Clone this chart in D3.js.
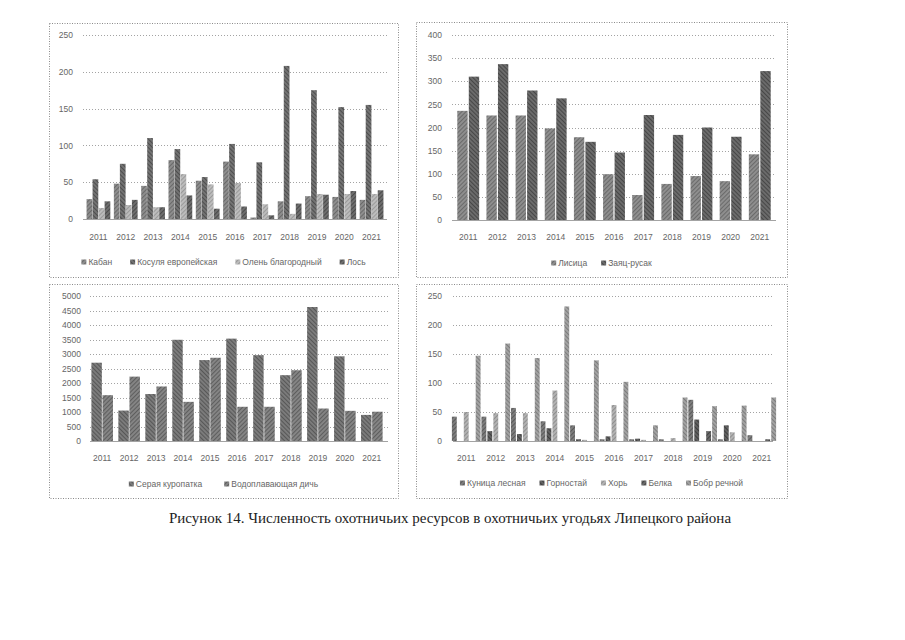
<!DOCTYPE html>
<html><head><meta charset="utf-8">
<script src="https://cdn.jsdelivr.net/npm/d3@7"></script>
<style>body{margin:0;background:#fff}</style></head>
<body><svg id="c" width="905" height="640"></svg>
<script>
// ---------- DATA ----------
const years = ["2011","2012","2013","2014","2015","2016","2017","2018","2019","2020","2021"];

const ungulateSeries = ["Кабан","Косуля европейская","Олень благородный","Лось"];
const boar     = [27, 48, 45, 80, 52, 78, 2, 24, 31, 30, 26];
const roeDeer  = [54, 75, 110, 95, 57, 102, 77, 208, 175, 152, 155];
const redDeer  = [15, 19, 16, 61, 47, 49, 20, 7, 34, 34, 34];
const elk      = [24, 26, 16, 32, 14, 17, 5, 21, 33, 38, 39];
const ungulateTicks = [0, 50, 100, 150, 200, 250];

const smallGameSeries = ["Лисица","Заяц-русак"];
const fox  = [236, 226, 226, 198, 179, 99, 54, 78, 95, 84, 142];
const hare = [310, 337, 280, 263, 169, 146, 227, 184, 200, 180, 322];
const smallGameTicks = [0, 50, 100, 150, 200, 250, 300, 350, 400];

const birdSeries = ["Серая куропатка","Водоплавающая дичь"];
const partridge = [2700, 1050, 1620, 3490, 2790, 3530, 2960, 2270, 4620, 2920, 900];
const waterfowl = [1580, 2220, 1880, 1350, 2870, 1180, 1180, 2440, 1120, 1040, 1010];
const birdTicks = [0, 500, 1000, 1500, 2000, 2500, 3000, 3500, 4000, 4500, 5000];

const furSeries = ["Куница лесная","Горностай","Хорь","Белка","Бобр речной"];
const marten   = [42, 42, 57, 34, 27, 3, 3, 3, 71, 3, 10];
const stoat    = [0, 17, 12, 22, 3, 8, 4, 0, 37, 27, 0];
const polecat  = [50, 48, 48, 87, 2, 62, 2, 5, 0, 15, 0];
const squirrel = [0, 0, 0, 0, 0, 0, 0, 0, 17, 0, 3];
const beaver   = [147, 168, 143, 232, 139, 102, 27, 75, 60, 61, 75];
const furTicks = [0, 50, 100, 150, 200, 250];

const caption = "Рисунок 14. Численность охотничьих ресурсов в охотничьих угодьях Липецкого района";

// ---------- DRAWING ----------
const svg = d3.select("#c");
const defs = svg.append("defs");
let pid = 0;
function hatch(base, line, angle) {
  const id = "h" + (pid++);
  const p = defs.append("pattern").attr("id", id).attr("patternUnits", "userSpaceOnUse")
    .attr("width", 3).attr("height", 3).attr("patternTransform", `rotate(${angle})`);
  p.append("rect").attr("width", 3).attr("height", 3).attr("fill", base);
  p.append("line").attr("x1", 0.5).attr("y1", 0).attr("x2", 0.5).attr("y2", 3)
    .attr("stroke", line).attr("stroke-width", 1.1);
  return `url(#${id})`;
}

const FONT = "'Liberation Sans', Arial, sans-serif";

function drawPanel(cfg) {
  const g = svg.append("g");
  const [fx0, fy0, fx1, fy1] = cfg.frame;
  g.append("rect").attr("x", fx0 + 0.5).attr("y", fy0 + 0.5)
    .attr("width", fx1 - fx0).attr("height", fy1 - fy0)
    .attr("fill", "none").attr("stroke", "#8a8a8a").attr("stroke-dasharray", "1,1.5");

  const x = d3.scaleBand().domain(years).range([cfg.x0, cfg.x1])
    .paddingInner(cfg.pad).paddingOuter(cfg.pad);
  const xs = d3.scaleBand().domain(cfg.names).range([0, x.bandwidth()]).paddingInner(cfg.inner);
  const y = d3.scaleLinear().domain([0, cfg.ticks[cfg.ticks.length - 1]]).range([cfg.yBase, cfg.yTop]);

  // gridlines
  g.append("g").selectAll("line").data(cfg.ticks).join("line")
    .attr("x1", cfg.gx0).attr("x2", cfg.gx1)
    .attr("y1", d => Math.round(y(d)) + 0.5).attr("y2", d => Math.round(y(d)) + 0.5)
    .attr("stroke", "#8c8c8c").attr("stroke-width", 0.8)
    .attr("stroke-dasharray", d => d === 0 ? null : "1,2");

  // y axis labels
  const ya = g.append("g").attr("transform", `translate(${cfg.labelRight},0)`)
    .call(d3.axisLeft(y).tickValues(cfg.ticks).tickSize(0).tickPadding(0).tickFormat(d3.format("d")));
  ya.select(".domain").remove();
  ya.selectAll("text").attr("font-family", FONT).attr("font-size", 8.5).attr("fill", "#666");

  // bars
  cfg.names.forEach((name, i) => {
    g.append("g").selectAll("rect").data(cfg.values[i]).join("rect")
      .attr("x", (d, j) => x(years[j]) + xs(name))
      .attr("y", d => y(d))
      .attr("width", xs.bandwidth())
      .attr("height", d => cfg.yBase - y(d))
      .attr("fill", cfg.fills[i]);
  });

  // x axis labels
  const xa = g.append("g").attr("transform", `translate(0,${cfg.xLabelY})`)
    .call(d3.axisBottom(x).tickSize(0).tickPadding(0));
  xa.select(".domain").remove();
  xa.selectAll("text").attr("font-family", FONT).attr("font-size", 8.5).attr("fill", "#666")
    .attr("dy", "0.35em").attr("y", 0);

  // legend
  const lg = g.append("g");
  const items = cfg.names.map((name, i) => {
    const it = lg.append("g");
    it.append("rect").attr("width", 5).attr("height", 5).attr("y", -2.5).attr("fill", cfg.fills[i]);
    const t = it.append("text").attr("x", 7).attr("dy", "0.35em").text(name)
      .attr("font-family", FONT).attr("font-size", 8.5).attr("fill", "#666");
    return { it, w: 7 + t.node().getComputedTextLength() };
  });
  const gap = cfg.legendGap;
  const total = d3.sum(items, d => d.w) + gap * (items.length - 1);
  let cx = (fx0 + fx1) / 2 - total / 2;
  items.forEach(d => { d.it.attr("transform", `translate(${cx},${cfg.legendY})`); cx += d.w + gap; });
}

drawPanel({
  frame: [49, 23, 398, 277], x0: 83, x1: 387, pad: 0.13, inner: 0.05,
  yBase: 219, yTop: 35, gx0: 83, gx1: 387, labelRight: 73, xLabelY: 237, legendY: 262, legendGap: 18,
  names: ungulateSeries, values: [boar, roeDeer, redDeer, elk], ticks: ungulateTicks,
  fills: [hatch("#8e8e8e", "#6a6a6a", 45), hatch("#747474", "#4e4e4e", -45), hatch("#bdbdbd", "#9a9a9a", 45), hatch("#6e6e6e", "#4a4a4a", 45)]
});
drawPanel({
  frame: [416, 22, 787, 277], x0: 450, x1: 778, pad: 0.25, inner: 0.1,
  yBase: 220, yTop: 35, gx0: 452, gx1: 776, labelRight: 442, xLabelY: 237, legendY: 263, legendGap: 14,
  names: smallGameSeries, values: [fox, hare], ticks: smallGameTicks,
  fills: [hatch("#8f8f8f", "#6a6a6a", 45), hatch("#6c6c6c", "#474747", -45)]
});
drawPanel({
  frame: [49, 284, 398, 498], x0: 86, x1: 388, pad: 0.2, inner: 0.06,
  yBase: 441, yTop: 296, gx0: 90, gx1: 388, labelRight: 81, xLabelY: 458, legendY: 484, legendGap: 22,
  names: birdSeries, values: [partridge, waterfowl], ticks: birdTicks,
  fills: [hatch("#7c7c7c", "#575757", -45), hatch("#858585", "#5e5e5e", 45)]
});
drawPanel({
  frame: [416, 284, 787, 498], x0: 451, x1: 777, pad: 0.03, inner: 0.18,
  yBase: 441, yTop: 296, gx0: 453, gx1: 773, labelRight: 442, xLabelY: 458, legendY: 483, legendGap: 14,
  names: furSeries, values: [marten, stoat, polecat, squirrel, beaver], ticks: furTicks,
  fills: [hatch("#7e7e7e", "#5a5a5a", 45), hatch("#626262", "#3e3e3e", -45), hatch("#b3b3b3", "#8e8e8e", 45), hatch("#6a6a6a", "#444", 45), hatch("#a3a3a3", "#7c7c7c", -45)]
});

svg.append("text").attr("x", 450).attr("y", 523).attr("text-anchor", "middle")
  .attr("font-family", "'Liberation Serif', 'Times New Roman', serif").attr("font-size", 15)
  .attr("fill", "#222").text(caption);
</script></body></html>
